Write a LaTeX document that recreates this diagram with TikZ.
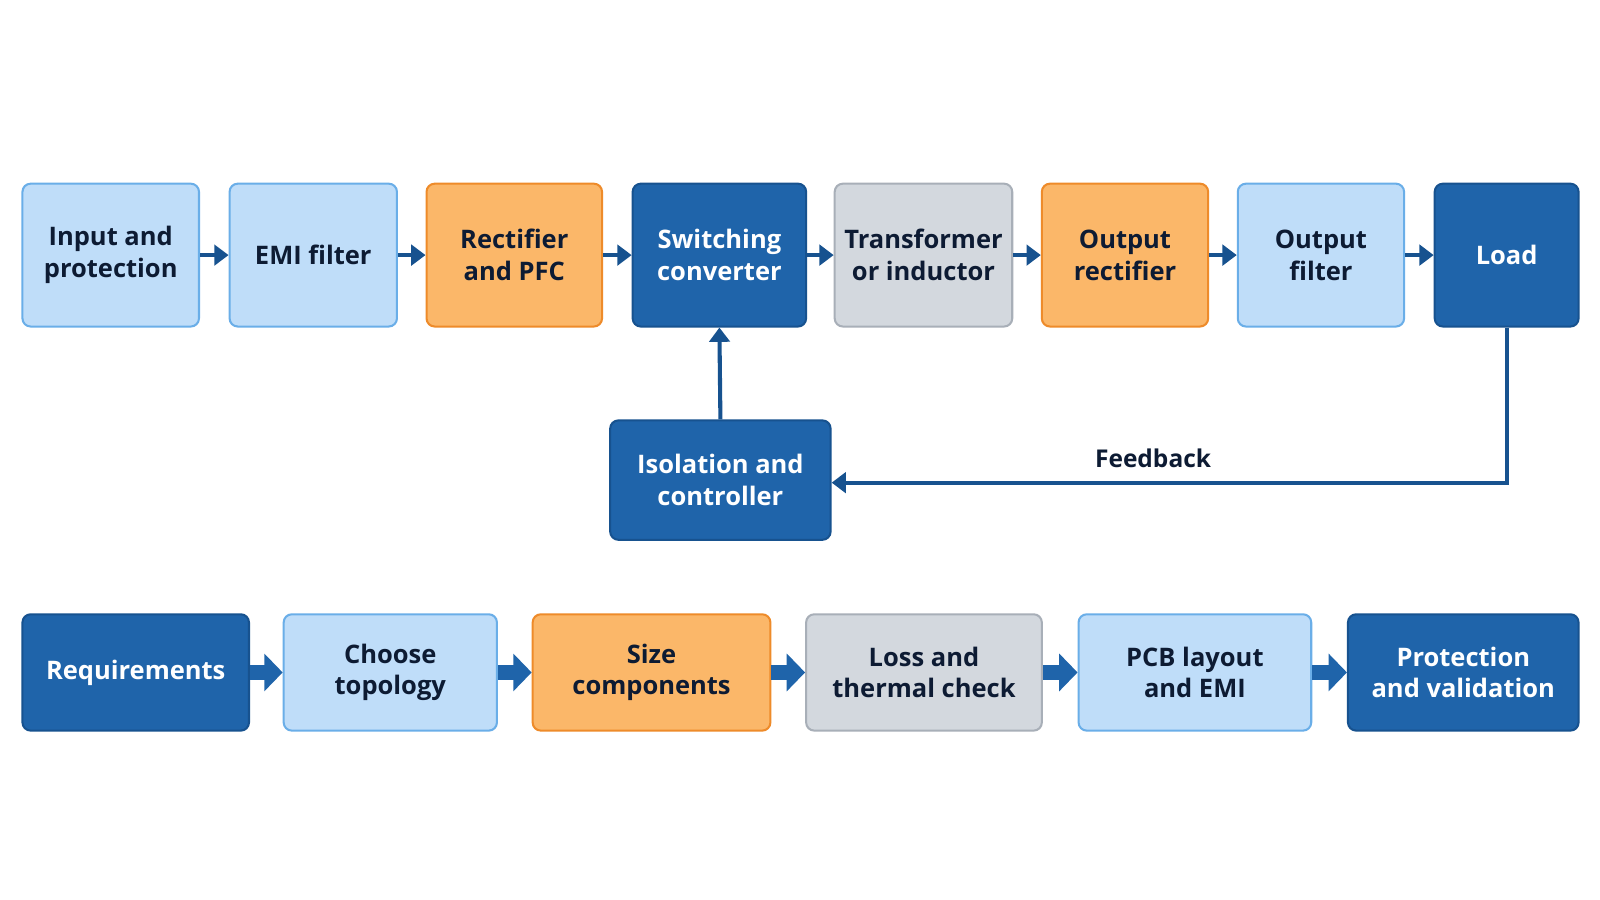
\documentclass[tikz,border=0pt]{standalone}
\usepackage{fontspec}
\setmainfont{Open Sans}
\usetikzlibrary{arrows.meta}
\definecolor{lbF}{HTML}{BFDDF9}\definecolor{lbD}{HTML}{6AAEE8}
\definecolor{orF}{HTML}{FBB769}\definecolor{orD}{HTML}{EE8B2A}
\definecolor{dbF}{HTML}{1F64AA}\definecolor{dbD}{HTML}{17528F}
\definecolor{grF}{HTML}{D3D8DE}\definecolor{grD}{HTML}{A8AFB8}
\definecolor{txt}{HTML}{0D1B33}
\begin{document}
\begin{tikzpicture}[x=0.5pt,y=-0.5pt,
 box/.style={rounded corners=4pt,line width=1pt,align=center,font=\fontsize{12.5}{15.5}\selectfont\bfseries,inner sep=0},
 lb/.style={box,fill=lbF,draw=lbD,text=txt},
 or/.style={box,fill=orF,draw=orD,text=txt},
 db/.style={box,fill=dbF,draw=dbD,text=white},
 gr/.style={box,fill=grF,draw=grD,text=txt},
 ta/.style={draw=dbD,line width=2pt,-{Triangle[length=7pt,width=10pt]}},
 ba/.style={draw=dbF,line width=7pt,-{Triangle[length=9pt,width=18pt]}}]
\fill[white] (0,0) rectangle (1568,882);
\useasboundingbox (0,0) rectangle (1568,882);
\newcommand\bx[6]{\node[#1,minimum width=(#3-#2)*0.5pt,minimum height=(#5-#4)*0.5pt] (#6) at ({(#2+#3)/2},{(#4+#5)/2})}
\bx{lb}{22}{195}{180}{320}{a}{Input and\\protection};
\bx{lb}{225}{389}{180}{320}{b}{EMI filter};
\bx{or}{418}{590}{180}{320}{c}{Rectifier\\and PFC};
\bx{db}{620}{790}{180}{320}{d}{Switching\\converter};
\bx{gr}{818}{992}{180}{320}{e}{Transformer\\or inductor};
\bx{or}{1021}{1184}{180}{320}{f}{Output\\rectifier};
\bx{lb}{1213}{1376}{180}{320}{g}{Output\\filter};
\bx{db}{1406}{1547}{180}{320}{h}{Load};
\bx{db}{598}{814}{412}{529}{i}{Isolation and\\controller};
\bx{db}{22}{244}{602}{716}{r1}{Requirements};
\bx{lb}{278}{487}{602}{716}{r2}{Choose\\topology};
\bx{or}{522}{755}{602}{716}{r3}{Size\\components};
\bx{gr}{790}{1021}{602}{716}{r4}{Loss and\\thermal check};
\bx{lb}{1057}{1285}{602}{716}{r5}{PCB layout\\and EMI};
\bx{db}{1321}{1547}{602}{716}{r6}{Protection\\and validation};
\foreach \p/\q in {a/b,b/c,c/d,d/e,e/f,f/g,g/h} \draw[ta] (\p.east) -- (\q.west);
\foreach \p/\q in {r1/r2,r2/r3,r3/r4,r4/r5,r5/r6} \draw[ba] (\p.east) -- (\q.west);
\draw[ta] (i.north) -- (d.south);
\coordinate (k) at (h.south |- 0,473);
\draw[ta] (h.south) -- (k) -- (i.east |- k);
\node[font=\fontsize{12}{14}\selectfont\bfseries,text=txt] (fb) at (1130,449) {Feedback};
\end{tikzpicture}
\end{document}
